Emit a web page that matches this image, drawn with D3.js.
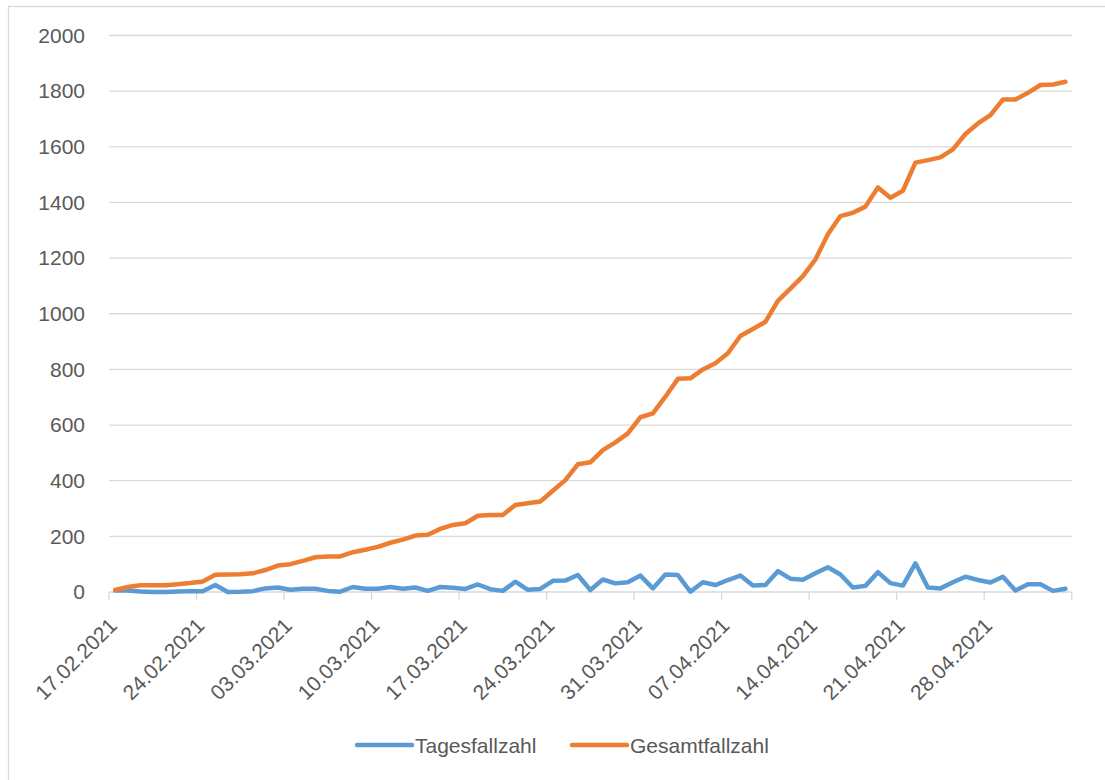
<!DOCTYPE html>
<meta charset="utf-8">
<!-- Load d3.js -->
<script src="https://d3js.org/d3.v7.min.js"></script>
<style>
  body { margin: 0; background: #fff; }
  text { font-family: "Liberation Sans", Arial, sans-serif; fill: #595959; }
</style>

<!-- Create a div where the graph will take place -->
<div id="my_dataviz"></div>

<script>

// categories: one entry per day
var dates = [
  "17.02.2021","18.02.2021","19.02.2021","20.02.2021","21.02.2021","22.02.2021","23.02.2021",
  "24.02.2021","25.02.2021","26.02.2021","27.02.2021","28.02.2021","01.03.2021","02.03.2021",
  "03.03.2021","04.03.2021","05.03.2021","06.03.2021","07.03.2021","08.03.2021","09.03.2021",
  "10.03.2021","11.03.2021","12.03.2021","13.03.2021","14.03.2021","15.03.2021","16.03.2021",
  "17.03.2021","18.03.2021","19.03.2021","20.03.2021","21.03.2021","22.03.2021","23.03.2021",
  "24.03.2021","25.03.2021","26.03.2021","27.03.2021","28.03.2021","29.03.2021","30.03.2021",
  "31.03.2021","01.04.2021","02.04.2021","03.04.2021","04.04.2021","05.04.2021","06.04.2021",
  "07.04.2021","08.04.2021","09.04.2021","10.04.2021","11.04.2021","12.04.2021","13.04.2021",
  "14.04.2021","15.04.2021","16.04.2021","17.04.2021","18.04.2021","19.04.2021","20.04.2021",
  "21.04.2021","22.04.2021","23.04.2021","24.04.2021","25.04.2021","26.04.2021","27.04.2021",
  "28.04.2021","29.04.2021","30.04.2021","01.05.2021","02.05.2021","03.05.2021","04.05.2021"
]

// daily cases
var tagesfallzahl = [
  5, 5, 2, 0, 0, 2, 3, 3, 25, 0, 1, 3, 13, 16,
  8, 12, 12, 4, 1, 18, 12, 12, 18, 12, 16, 4, 18, 15,
  11, 27, 10, 4, 37, 8, 11, 40, 41, 61, 7, 45, 31, 35,
  59, 13, 63, 61, 1, 35, 25, 43, 59, 23, 25, 75, 48, 44,
  67, 89, 63, 16, 22, 71, 32, 23, 103, 16, 13, 35, 55, 43,
  34, 55, 5, 28, 28, 4, 12
]

// total cases
var gesamtfallzahl = [
  7, 18, 24, 24, 24, 28, 32, 38, 62, 63, 64, 67, 79, 95,
  100, 112, 125, 128, 128, 143, 152, 162, 177, 188, 203, 206, 227, 241,
  247, 274, 277, 277, 313, 319, 325, 364, 402, 459, 466, 510, 538, 570,
  628, 642, 702, 766, 768, 800, 822, 858, 920, 945, 971, 1046, 1090, 1135,
  1195, 1286, 1351, 1363, 1385, 1454, 1417, 1442, 1543, 1552, 1562, 1591, 1646, 1684,
  1714, 1770, 1770, 1794, 1822, 1824, 1834
]

var yTicks = [0, 200, 400, 600, 800, 1000, 1200, 1400, 1600, 1800, 2000]
var xLabels = ["17.02.2021","24.02.2021","03.03.2021","10.03.2021","17.03.2021","24.03.2021",
               "31.03.2021","07.04.2021","14.04.2021","21.04.2021","28.04.2021"]

var seriesNames = ["Tagesfallzahl", "Gesamtfallzahl"]
var seriesColors = ["#5B9BD5", "#ED7D31"]

// set the dimensions of the graph
var width = 1105,
    height = 780,
    plotLeft = 109,
    plotRight = 1071.7,
    plotTop = 35.5,
    plotBottom = 592

var svg = d3.select("#my_dataviz")
  .append("svg")
    .attr("width", width)
    .attr("height", height)

// chart border (right and bottom edges run past the picture)
svg.append("rect")
  .attr("x", 8.5)
  .attr("y", 6.5)
  .attr("width", 1100)
  .attr("height", 780)
  .attr("fill", "#fff")
  .attr("stroke", "#d9d9d9")
  .attr("stroke-width", 1.3)

// scales
var x = d3.scaleBand()
  .domain(dates)
  .range([plotLeft, plotRight])
  .padding(0)
var bw = x.bandwidth()

var y = d3.scaleLinear()
  .domain([0, 2000])
  .range([plotBottom, plotTop])

// horizontal grid lines
svg.selectAll(".grid")
  .data(yTicks)
  .enter()
  .append("line")
    .attr("x1", plotLeft)
    .attr("x2", plotRight)
    .attr("y1", function(d) { return y(d) })
    .attr("y2", function(d) { return y(d) })
    .attr("stroke", "#d9d9d9")
    .attr("stroke-width", 1.3)

// y axis labels
var yAxis = svg.append("g")
  .attr("transform", "translate(" + (plotLeft - 24) + ",0)")
  .call(d3.axisLeft(y).tickValues(yTicks).tickSize(0).tickPadding(0).tickFormat(d3.format("d")))
yAxis.select(".domain").remove()
yAxis.selectAll("text")
  .style("font-size", "21px")
  .style("font-family", "'Liberation Sans', Arial, sans-serif")
  .attr("fill", "#595959")

// tick marks between categories, every 7 days
var tickPos = dates.filter(function(d, i) { return i % 7 == 0 }).map(function(d) { return x(d) })
tickPos.push(plotRight)
svg.selectAll(".xtick")
  .data(tickPos)
  .enter()
  .append("line")
    .attr("x1", function(d) { return d })
    .attr("x2", function(d) { return d })
    .attr("y1", plotBottom)
    .attr("y2", plotBottom + 8)
    .attr("stroke", "#d9d9d9")
    .attr("stroke-width", 1.3)

// rotated date labels
svg.selectAll(".xlabel")
  .data(xLabels)
  .enter()
  .append("text")
    .attr("transform", function(d) {
      return "translate(" + (x(d) + bw / 2 + 3) + "," + (plotBottom + 35) + ") rotate(-45)"
    })
    .attr("text-anchor", "end")
    .style("font-size", "21px")
    .text(function(d) { return d })

// lines
var line = d3.line()
  .x(function(d, i) { return x(dates[i]) + bw / 2 })
  .y(function(d) { return y(d) })

var allSeries = [tagesfallzahl, gesamtfallzahl]
svg.selectAll(".series")
  .data(allSeries)
  .enter()
  .append("path")
    .attr("d", line)
    .attr("fill", "none")
    .attr("stroke", function(d, i) { return seriesColors[i] })
    .attr("stroke-width", 4.5)
    .attr("stroke-linejoin", "round")
    .attr("stroke-linecap", "round")

// legend
var legendX = [357, 572]
var legend = svg.selectAll(".legend")
  .data(seriesNames)
  .enter()
  .append("g")
    .attr("transform", function(d, i) { return "translate(" + legendX[i] + ",745)" })

legend.append("line")
  .attr("x1", 0)
  .attr("x2", 55)
  .attr("stroke", function(d, i) { return seriesColors[i] })
  .attr("stroke-width", 4.5)
  .attr("stroke-linecap", "round")

legend.append("text")
  .attr("x", 58)
  .attr("y", 7.5)
  .style("font-size", "21px")
  .text(function(d) { return d })

</script>
